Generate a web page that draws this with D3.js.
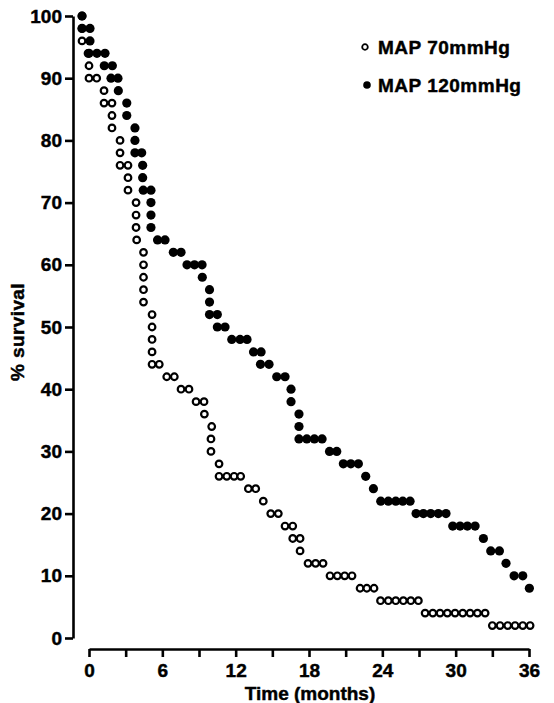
<!DOCTYPE html>
<html>
<head>
<meta charset="utf-8">
<script src="https://cdn.jsdelivr.net/npm/d3@7"></script>
<style>
  html, body { margin: 0; padding: 0; background: #fff; }
  svg { display: block; }
  text { font-family: "Liberation Sans", Arial, sans-serif; font-weight: 700; fill: #000; stroke: #000; stroke-width: 0.45; }
</style>
</head>
<body>
<svg id="chart" width="554" height="703"></svg>
<script>
// MAP 70 mmHg (open circles) - months, % survival
const openMonths = [-0.57, -0.57, -0.57, -0.08, 0, 0, 0.63, 1.23, 1.23, 1.88, 1.88, 1.88,
  2.54, 2.54, 2.54, 3.19, 3.19, 3.19, 3.85, 3.85, 3.85, 3.90, 4.46, 4.46, 4.46, 4.46, 4.46,
  5.16, 5.16, 5.16, 5.16, 5.16, 5.75, 6.36, 6.98, 7.53, 8.18, 8.76, 9.41, 9.44, 10.04, 9.98, 9.98,
  10.64, 10.64, 11.27, 11.87, 12.41, 13.04, 13.64, 14.26, 14.87, 15.49, 16.04, 16.67, 16.67,
  17.27, 17.27, 17.92, 18.54, 19.15, 19.72, 20.32, 20.92, 21.52, 22.18, 22.73, 23.32,
  23.85, 24.49, 25.10, 25.72, 26.33, 26.95, 27.50, 28.13, 28.72, 29.32, 29.95, 30.58, 31.18,
  31.78, 32.41, 33.00, 33.63, 34.26, 34.86, 35.49, 36.09];
const openSurv = [100, 98, 96, 94, 92, 90, 90, 88, 86, 86, 84, 82,
  80, 78, 76, 76, 74, 72, 70, 68, 66, 64, 62, 60, 58, 56, 54,
  52, 50, 48, 46, 44, 44, 42, 42, 40, 40, 38, 38, 36, 34, 32, 30,
  28, 26, 26, 26, 26, 24, 24, 22, 20, 20, 18, 18, 16,
  16, 14, 12, 12, 12, 10, 10, 10, 10, 8, 8, 8,
  6, 6, 6, 6, 6, 6, 4, 4, 4, 4, 4, 4, 4,
  4, 4, 2, 2, 2, 2, 2, 2];

// MAP 120 mmHg (filled circles)
const solidMonths = [-0.57, -0.57, 0.08, 0.08, 0, 0.65, 1.31, 1.25, 1.91, 1.80, 2.37, 2.40,
  3.09, 3.09, 3.76, 3.76, 3.76, 4.31, 4.39, 4.39, 4.44, 5.07, 5.07, 5.07, 5.07, 5.61, 6.22,
  6.90, 7.53, 8.02, 8.63, 9.25, 9.27, 9.86, 9.86, 9.86, 10.50, 10.50, 11.13, 11.68, 12.36, 12.93,
  13.46, 14.08, 14.03, 14.73, 15.36, 16.04, 16.53, 16.53, 17.18, 17.18, 17.18, 17.82, 18.44, 19.07,
  19.68, 20.27, 20.81, 21.42, 22.04, 22.64, 23.27, 23.87, 24.49, 25.10, 25.67, 26.27,
  26.76, 27.36, 27.96, 28.58, 29.21, 29.76, 30.36, 30.96, 31.59, 32.27, 32.87, 33.58,
  34.12, 34.78, 35.49, 36.03];
const solidSurv = [100, 98, 98, 96, 94, 94, 94, 92, 92, 90, 90, 88,
  86, 84, 82, 80, 78, 78, 76, 74, 72, 72, 70, 68, 66, 64, 64,
  62, 62, 60, 60, 60, 58, 56, 54, 52, 52, 50, 50, 48, 48, 48,
  46, 46, 44, 44, 42, 42, 40, 38, 36, 34, 32, 32, 32, 32,
  30, 30, 28, 28, 28, 26, 24, 22, 22, 22, 22, 22,
  20, 20, 20, 20, 20, 18, 18, 18, 18, 16, 14, 14,
  12, 10, 10, 8];

const xTicks = d3.range(0, 37, 3);
const xLabels = [0, 6, 12, 18, 24, 30, 36];
const yTicks = d3.range(0, 101, 10);
const legendLabels = ['MAP 70mmHg', 'MAP 120mmHg'];

const svg = d3.select('#chart');
svg.append('rect').attr('width', 554).attr('height', 703).attr('fill', '#fff');

const x = d3.scaleLinear().domain([0, 36]).range([89, 529]);
const y = d3.scaleLinear().domain([0, 100]).range([638, 16]);

function styleAxis(g) {
  g.select('.domain').attr('stroke', '#000').attr('stroke-width', 2.6);
  g.selectAll('.tick line').attr('stroke', '#000').attr('stroke-width', 2.6);
  g.selectAll('.tick text')
    .attr('font-family', '"Liberation Sans", Arial, sans-serif')
    .attr('font-weight', 700).attr('font-size', 19).attr('fill', '#000');
}

// y axis
svg.append('g')
  .attr('transform', 'translate(73,0)')
  .call(d3.axisLeft(y).tickValues(yTicks).tickSize(8).tickSizeOuter(0).tickPadding(3))
  .call(styleAxis);

// x axis
svg.append('g')
  .attr('transform', 'translate(0,649)')
  .call(d3.axisBottom(x).tickValues(xTicks).tickSize(8).tickSizeOuter(0).tickPadding(7)
    .tickFormat(d => xLabels.includes(d) ? d : ''))
  .call(styleAxis);

// titles
svg.append('text')
  .attr('x', 310).attr('y', 700)
  .attr('text-anchor', 'middle').attr('font-size', 19)
  .text('Time (months)');
svg.append('text')
  .attr('transform', 'translate(24,332) rotate(-90)')
  .attr('text-anchor', 'middle').attr('font-size', 19).attr('letter-spacing', 0.4)
  .text('% survival');

// data points
const openPts = openMonths.map((m, i) => [m, openSurv[i]]);
const solidPts = solidMonths.map((m, i) => [m, solidSurv[i]]);

svg.append('g').selectAll('circle').data(openPts).join('circle')
  .attr('cx', d => x(d[0])).attr('cy', d => y(d[1]))
  .attr('r', 3.3).attr('fill', '#fff')
  .attr('stroke', '#000').attr('stroke-width', 2.2);

svg.append('g').selectAll('circle').data(solidPts).join('circle')
  .attr('cx', d => x(d[0])).attr('cy', d => y(d[1]))
  .attr('r', 4.6).attr('fill', '#000');

// legend
const legend = svg.append('g').attr('transform', 'translate(365,47)');
legend.append('circle').attr('cx', 0).attr('cy', 0).attr('r', 2.8)
  .attr('fill', '#fff').attr('stroke', '#000').attr('stroke-width', 1.8);
legend.append('circle').attr('cx', 2).attr('cy', 38).attr('r', 3.8).attr('fill', '#000');
legend.selectAll('text').data(legendLabels).join('text')
  .attr('x', 13).attr('y', (d, i) => 6.5 + i * 38)
  .attr('font-size', 19).attr('letter-spacing', 0.5)
  .text(d => d);
</script>
</body>
</html>
